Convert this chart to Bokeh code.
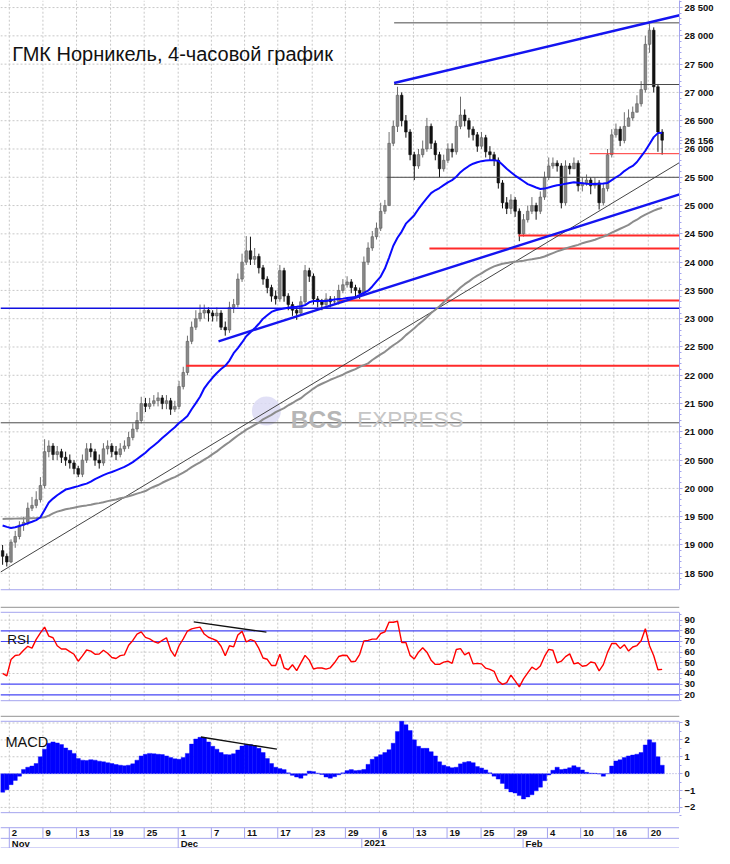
from bokeh.plotting import figure
from bokeh.models import Range1d, LinearAxis, FixedTicker, Label, ColumnDataSource
from bokeh.layouts import column
from bokeh.embed import file_html
from bokeh.resources import INLINE
from bokeh.core.properties import value

TITLE = "ГМК Норникель, 4-часовой график"

# ---------------- data (4-hour bars) ----------------
first_open = 18900
closes = [
    18800, 18700, 19050, 19150, 19350, 19400, 19650, 19700, 19800, 20050,
    20650, 20750, 20600, 20650, 20550, 20500, 20450, 20350, 20250, 20500,
    20700, 20650, 20500, 20450, 20700, 20750, 20650, 20600, 20700, 20750,
    20900, 21050, 21200, 21500, 21450, 21500, 21550, 21600, 21500, 21550,
    21400, 21450, 21800, 22050, 22600, 22850, 23000, 23100, 23150, 23100,
    23050, 23100, 22850, 22800, 23200, 23250, 23700, 24000, 24200, 24050,
    24100, 23900, 23700, 23550, 23400, 23350, 23850, 23400, 23250, 23150,
    23100, 23300, 23850, 23750, 23350, 23300, 23250, 23350, 23300, 23300,
    23500, 23600, 23650, 23550, 23500, 23450, 24000, 24250, 24450, 24600,
    24900, 25000, 26100, 26400, 26950, 26500, 26300, 25900, 25700, 25900,
    26000, 26400, 26100, 25900, 25650, 25800, 26000, 25950, 26400, 26600,
    26500, 26350, 26250, 26050, 26200, 25950, 25900, 25800, 25400, 25050,
    24950, 25100, 24900, 24500, 24750, 24900, 25000, 24900, 25150, 25500,
    25700, 25750, 25700, 25050, 25700, 25650, 25750, 25350, 25400, 25450,
    25350, 25400, 25050, 25300, 25900, 26250, 26350, 26150, 26400, 26550,
    26650, 26800, 27050, 27850, 28100, 27100, 26300, 26156]
highs = [
    19000, 18850, 19100, 19250, 19420, 19500, 19750, 19850, 19950, 20200,
    20870, 20850, 20800, 20750, 20700, 20650, 20600, 20500, 20400, 20600,
    20800, 20800, 20700, 20600, 20800, 20850, 20800, 20750, 20800, 20850,
    21000, 21150, 21350, 21620, 21600, 21600, 21650, 21700, 21650, 21650,
    21600, 21550, 21900, 22150, 22700, 22950, 23150, 23250, 23250, 23200,
    23150, 23200, 23150, 22950, 23300, 23350, 23800, 24150, 24460, 24450,
    24250, 24150, 23950, 23750, 23600, 23500, 23950, 23900, 23450, 23300,
    23200, 23400, 23950, 23900, 23800, 23400, 23350, 23450, 23400, 23400,
    23600, 23700, 23750, 23700, 23600, 23550, 24100, 24350, 24550, 24700,
    25050, 25100, 26300, 26500, 27100, 27000, 26600, 26350, 25950, 26000,
    26150, 26550, 26450, 26150, 25950, 25900, 26100, 26100, 26500, 26925,
    26700, 26550, 26400, 26300, 26300, 26250, 26050, 25950, 25850, 25450,
    25150, 25200, 25150, 24950, 24850, 25000, 25150, 25050, 25250, 25600,
    25850, 25850, 25800, 25750, 25800, 25750, 25850, 25800, 25500, 25550,
    25500, 25500, 25450, 25400, 26000, 26350, 26450, 26400, 26650, 26700,
    26750, 26950, 27200, 28000, 28220, 28150, 27150, 26350]
lows = [
    18650, 18620, 18680, 18950, 19100, 19250, 19350, 19600, 19650, 19750,
    20000, 20550, 20500, 20500, 20450, 20400, 20350, 20250, 20200, 20200,
    20450, 20550, 20400, 20350, 20400, 20600, 20550, 20500, 20550, 20650,
    20700, 20850, 21000, 21150, 21350, 21400, 21450, 21450, 21400, 21400,
    21300, 21350, 21400, 21750, 22000, 22550, 22800, 22950, 23000, 22950,
    22950, 22950, 22800, 22700, 22750, 23100, 23200, 23650, 23950, 23950,
    23950, 23800, 23600, 23450, 23300, 23250, 23300, 23300, 23150, 23050,
    22980, 23050, 23250, 23650, 23250, 23200, 23150, 23200, 23200, 23250,
    23250, 23450, 23550, 23450, 23400, 23350, 23400, 23950, 24200, 24400,
    24550, 24850, 25000, 26050, 26300, 26400, 26200, 25800, 25450, 25650,
    25850, 25950, 26000, 25800, 25500, 25600, 25750, 25850, 25900, 26350,
    26400, 26200, 26150, 25950, 26000, 25850, 25800, 25700, 25300, 24950,
    24850, 24850, 24800, 24370, 24450, 24700, 24850, 24750, 24850, 25100,
    25450, 25650, 25600, 24950, 25000, 25550, 25650, 25250, 25250, 25350,
    25200, 25300, 24930, 25000, 25250, 25850, 26200, 26050, 26100, 26450,
    26500, 26650, 26750, 27000, 27700, 27000, 25950, 25900]
ma_fast = [
    19345, 19320, 19300, 19315, 19335, 19360, 19385, 19410, 19440, 19490,
    19620, 19750, 19820, 19880, 19930, 19980, 20000, 20020, 20040, 20065,
    20085, 20120, 20165, 20200, 20235, 20265, 20290, 20320, 20350, 20380,
    20420, 20465, 20520, 20575, 20630, 20700, 20760, 20820, 20890, 20955,
    21020, 21080, 21155, 21215, 21280, 21400, 21507, 21620, 21770, 21870,
    21960, 22040, 22110, 22167, 22260, 22390, 22480, 22580, 22690, 22760,
    22830, 22910, 23000, 23060, 23120, 23150, 23165, 23180, 23195, 23205,
    23210, 23220, 23240, 23290, 23313, 23313, 23313, 23313, 23325, 23340,
    23348, 23355, 23365, 23375, 23382, 23420, 23455, 23495, 23570, 23660,
    23745, 23886, 24080, 24290, 24430, 24540, 24680, 24755, 24830, 24940,
    25040, 25130, 25220, 25270, 25310, 25360, 25410, 25450, 25510, 25590,
    25650, 25700, 25740, 25765, 25785, 25795, 25800, 25800, 25790, 25720,
    25650, 25590, 25530, 25480, 25430, 25380, 25350, 25320, 25292, 25300,
    25320, 25340, 25360, 25370, 25385, 25400, 25413, 25405, 25395, 25385,
    25380, 25380, 25385, 25390, 25400, 25450, 25500, 25545, 25610, 25660,
    25700, 25770, 25870, 25969, 26090, 26210, 26281, 26285]
ma_slow = [
    19460, 19462, 19464, 19466, 19468, 19470, 19472, 19474, 19476, 19480,
    19490, 19520, 19560, 19590, 19610, 19632, 19645, 19660, 19675, 19690,
    19700, 19712, 19728, 19740, 19757, 19775, 19790, 19805, 19825, 19841,
    19862, 19883, 19908, 19930, 19953, 19995, 20030, 20060, 20100, 20135,
    20170, 20200, 20240, 20280, 20325, 20375, 20420, 20460, 20510, 20553,
    20605, 20655, 20715, 20770, 20820, 20880, 20935, 20985, 21040, 21080,
    21125, 21165, 21220, 21260, 21300, 21350, 21385, 21420, 21470, 21510,
    21555, 21594, 21655, 21710, 21765, 21815, 21850, 21885, 21920, 21950,
    21980, 22010, 22050, 22080, 22110, 22150, 22180, 22210, 22270, 22320,
    22370, 22415, 22475, 22530, 22580, 22636, 22710, 22770, 22830, 22900,
    22960, 23025, 23100, 23160, 23220, 23290, 23360, 23420, 23480, 23550,
    23610, 23660, 23715, 23760, 23800, 23850, 23890, 23925, 23950, 23970,
    23985, 23998, 24007, 24015, 24025, 24040, 24050, 24065, 24077, 24100,
    24130, 24160, 24190, 24215, 24240, 24265, 24285, 24305, 24335, 24355,
    24375, 24395, 24424, 24450, 24480, 24520, 24555, 24590, 24625, 24660,
    24710, 24750, 24800, 24840, 24875, 24910, 24940, 24962]
rsi = [
    40, 37.8, 53, 56.8, 57.5, 61.8, 65.5, 63.8, 72, 78,
    83.5, 75, 73.5, 66, 63, 63, 60.5, 58, 51.5, 56.5,
    62, 61, 58, 58.3, 61.8, 59, 55, 54, 56.7, 57.5,
    66.5, 71, 77, 79, 73.8, 72.4, 70, 68.5, 71, 73.5,
    62, 56, 66, 72.5, 79.8, 81.8, 82.8, 83.5, 77, 74,
    72.5, 70.7, 65.5, 56.6, 66, 65, 76, 79.5, 69.5, 71.8,
    70.4, 63.5, 54.5, 53.3, 47.5, 47.5, 58, 45.3, 43.5, 48.2,
    42.6, 50, 57, 52.5, 44.2, 45.2, 45.1, 44.1, 45.3, 50,
    55.9, 57.1, 56.8, 51, 51.5, 58, 70.6, 71, 72.2, 72.2,
    77.5, 79, 88.2, 88, 89, 69.1, 69.1, 57, 53.6, 60,
    64.2, 60, 52.5, 48.5, 48.6, 50.6, 51.5, 49.5, 62.5, 63.3,
    57.5, 59.7, 49, 49.5, 49, 45, 43.8, 42, 33, 29.8,
    31.5, 38.5, 33, 27.5, 35, 40.5, 46, 43.5, 47, 56,
    62.6, 61.8, 50, 51.5, 55.8, 58.4, 49, 50.1, 46.8, 47.5,
    50.8, 50, 42.5, 48.3, 59.8, 68.1, 68.1, 63.5, 67, 61,
    64.8, 66.2, 70.7, 82, 66, 56.6, 43.5, 43.8]
macd_hist = [
    -1.1, -0.95, -0.65, -0.4, -0.15, 0.25, 0.38, 0.45, 0.6, 1.0,
    1.45, 1.8, 1.88, 1.82, 1.72, 1.52, 1.38, 1.2, 0.9, 0.8,
    0.78, 0.83, 0.8, 0.74, 0.7, 0.65, 0.6, 0.54, 0.5, 0.47,
    0.5, 0.58, 0.8, 1.05, 1.15, 1.2, 1.18, 1.15, 1.13, 1.05,
    0.95, 0.88, 0.85, 0.95, 1.2, 1.75, 2.05, 2.15, 2.12, 1.88,
    1.62, 1.45, 1.25, 1.13, 1.12, 1.18, 1.4, 1.63, 1.74, 1.72,
    1.63, 1.5, 1.25, 0.9, 0.6, 0.38, 0.3, 0.24, 0.05, -0.1,
    -0.2, -0.27, -0.1, 0.15, 0.12, 0.03, -0.05, -0.2, -0.27, -0.18,
    -0.07, 0.05, 0.18, 0.24, 0.18, 0.2, 0.25, 0.55, 0.85, 1.0,
    1.12, 1.25, 1.42, 1.8, 2.5, 3.1, 2.9, 2.55, 2.0, 1.62,
    1.5, 1.5, 1.3, 1.05, 0.7, 0.5, 0.42, 0.35, 0.38, 0.58,
    0.68, 0.72, 0.65, 0.42, 0.33, 0.22, 0.05, -0.15, -0.32, -0.58,
    -0.9, -1.08, -1.15, -1.3, -1.5, -1.38, -1.25, -1.02, -0.8, -0.42,
    -0.08, 0.2, 0.38, 0.24, 0.28, 0.35, 0.47, 0.38, 0.22, 0.08,
    0.03, 0.02, -0.02, -0.15, 0.0, 0.45, 0.75, 0.82, 0.95, 1.05,
    1.1, 1.15, 1.25, 1.7, 2.0, 1.85, 1.0, 0.5]
last_price = 26156

price_ticks = [18500, 19000, 19500, 20000, 20500, 21000, 21500, 22000, 22500,
               23000, 23500, 24000, 24500, 25000, 25500, 26000, 26500, 27000,
               27500, 28000, 28500]
rsi_ticks = [20, 30, 40, 50, 60, 70, 80, 90]
macd_ticks = [-2, -1, 0, 1, 2, 3]
grid_bars = [2.1, 10.1, 18.1, 26.2, 34.2, 42.3, 50.2, 58.1, 66.0, 74.2,
             82.1, 90.2, 98.3, 106.3, 114.4, 122.3, 130.2, 138.1, 146.0, 154.2]
day_labels = ["2", "9", "13", "19", "25", "1", "7", "11", "17", "23", "29",
              "6", "13", "19", "25", "29", "4", "10", "16", "20"]
month_bars = [2.1, 42.3, 86.0, 124.4]
month_labels = ["Nov", "Dec", "2021", "Feb"]

# analyst levels (price, first bar)
black_level_price = [28230, 27140, 25500, 21160]
black_level_from = [93.7, 93.7, 91.9, 0.0]
red_level_price = [24470, 24240, 23320, 22170]
red_level_from = [123.3, 102.1, 80.7, 44.2]
thin_red_level_price = [25917]
thin_red_level_from = [140.2]
blue_level_price = [23185]
blue_level_from = [0.0]
# trend lines (bar, price) -> (bar, price)
trend_blue_x0 = [51.9, 93.7]
trend_blue_y0 = [22601, 27167]
trend_blue_x1 = [161.63, 161.63]
trend_blue_y1 = [25196, 28365]
long_trend_x = [0.0, 161.63]
long_trend_y = [18521, 25760]
rsi_div_x = [46.0, 63.3]
rsi_div_y = [88.4, 78.7]
macd_div_x = [47.7, 65.8]
macd_div_y = [2.17, 1.45]

# ---------------- styling ----------------
X_END = 161.63
FRAME_W = 679
GRID = "#c8c8c8"
PURPLE = "#a4a4ee"
FONT = "Liberation Sans"
TICK_FONT = "9.5px"

x_rng = Range1d(0, X_END)


def make_fig(h, y0, y1):
    f = figure(frame_width=FRAME_W, frame_height=h, x_range=x_rng,
               y_range=Range1d(y0, y1), output_backend="svg",
               toolbar_location=None, min_border=0,
               x_axis_location=None, y_axis_location=None)
    f.grid.visible = False
    f.outline_line_color = None
    f.background_fill_color = "white"
    f.border_fill_color = "white"
    return f


def right_axis(f, ticks, minor, bounds, overrides=None):
    ax = LinearAxis(ticker=FixedTicker(ticks=ticks, minor_ticks=minor), bounds=bounds)
    ax.axis_line_color = PURPLE
    ax.major_tick_line_color = PURPLE
    ax.minor_tick_line_color = PURPLE
    ax.major_tick_in = 0
    ax.major_tick_out = 3
    ax.minor_tick_in = 0
    ax.minor_tick_out = 2
    ax.major_label_standoff = 2
    ax.major_label_text_font = FONT
    ax.major_label_text_font_size = TICK_FONT
    ax.major_label_text_font_style = "bold"
    ax.major_label_text_color = "#111111"
    if overrides:
        ax.major_label_overrides = overrides
    f.add_layout(ax, "right")


def vgrid(f, lo, hi):
    f.segment(x0=grid_bars, y0=[lo] * len(grid_bars), x1=grid_bars, y1=[hi] * len(grid_bars),
              line_color=GRID, line_width=1, line_dash="2 2")


def hgrid(f, ys):
    f.segment(x0=[0] * len(ys), y0=ys, x1=[X_END] * len(ys), y1=ys,
              line_color=GRID, line_width=1, line_dash="2 2")


def hlines(f, ys, starts, color, width):
    f.segment(x0=starts, y0=ys, x1=[X_END] * len(ys), y1=ys, line_color=color, line_width=width)


def spaced(v):
    return f"{v // 1000} {v % 1000:03d}"


# ---------------- main price panel ----------------
P_LO, P_HI = 18001, 28625
P_BOX = 18209
main = make_fig(601, P_LO, P_HI)
hgrid(main, price_ticks)
vgrid(main, P_BOX, P_HI)
hlines(main, [P_BOX], [0], PURPLE, 1)

N = len(closes)
xs = [i + 0.5 for i in range(N)]
opens = [first_open] + closes[:-1]
hi = [max(h, o, c) for h, o, c in zip(highs, opens, closes)]
lo = [min(l, o, c) for l, o, c in zip(lows, opens, closes)]
top = [max(o, c) for o, c in zip(opens, closes)]
bot = [min(o, c) for o, c in zip(opens, closes)]
up_idx = [i for i in range(N) if closes[i] >= opens[i]]
dn_idx = [i for i in range(N) if closes[i] < opens[i]]


def csrc(idx):
    return ColumnDataSource(dict(x=[xs[i] for i in idx], hi=[hi[i] for i in idx],
                                 lo=[lo[i] for i in idx], top=[top[i] for i in idx],
                                 bot=[bot[i] for i in idx]))


s_up, s_dn = csrc(up_idx), csrc(dn_idx)
main.segment(x0="x", y0="hi", x1="x", y1="lo", source=s_up, line_color="#6e6e6e", line_width=1)
main.segment(x0="x", y0="hi", x1="x", y1="lo", source=s_dn, line_color="#111111", line_width=1)
main.vbar(x="x", top="top", bottom="bot", width=0.62, source=s_up,
          fill_color="#8a8a8a", line_color="#5a5a5a", line_width=0.6)
main.vbar(x="x", top="top", bottom="bot", width=0.62, source=s_dn,
          fill_color="#111111", line_color="#111111", line_width=0.6)

# watermark
main.scatter(x=[63.3], y=[21368], size=29, marker="circle", fill_color="#dcdaf4",
             line_color=None, fill_alpha=0.85)
main.add_layout(Label(x=69.1, y=21212, text="BCS", text_font=FONT, text_font_size="24.5px",
                      text_font_style="bold", text_color="#b6b6b6", text_baseline="alphabetic"))
main.add_layout(Label(x=84.9, y=21212, text="EXPRESS", text_font=FONT, text_font_size="22.5px",
                      text_color="#c6c6c6", text_baseline="alphabetic"))

# levels and lines
hlines(main, black_level_price, black_level_from, "#4a4a4a", 1)
hlines(main, red_level_price, red_level_from, "#ff2a2a", 2)
hlines(main, thin_red_level_price, thin_red_level_from, "#ff3030", 1)
hlines(main, blue_level_price, blue_level_from, "#1010e0", 1.6)
main.line(long_trend_x, long_trend_y, line_color="#444444", line_width=1)
main.line(xs, ma_slow, line_color="#8c8c8c", line_width=2)
main.line(xs, ma_fast, line_color="#0a0aff", line_width=2)
main.segment(x0=trend_blue_x0, y0=trend_blue_y0, x1=trend_blue_x1, y1=trend_blue_y1,
             line_color="#1414f0", line_width=2.4)

main.add_layout(Label(x=2.8, y=27688, text=TITLE, text_font=FONT, text_font_size="20px",
                      text_color="#111111", text_baseline="alphabetic"))

# price axis: regular ticks plus the last-price marker
price_labels = {t: spaced(t) for t in price_ticks}
price_labels[last_price] = spaced(last_price)
right_axis(main, sorted(price_ticks + [last_price]), list(range(18300, 28700, 100)),
           (P_BOX, P_HI), price_labels)

# ---------------- RSI panel ----------------
R_LO, R_HI = 4.34, 107.5
R_BOX_LO, R_BOX_HI = 14.47, 97.37
rp = make_fig(110, R_LO, R_HI)
hlines(rp, [102.0], [0], "#a8a8a8", 1.2)
hgrid(rp, [90, 60, 50, 40])
vgrid(rp, R_BOX_LO, R_BOX_HI)
hlines(rp, [R_BOX_HI, R_BOX_LO], [0, 0], PURPLE, 1)
hlines(rp, [80, 70, 30, 20], [0, 0, 0, 0], "#4646f4", 1.2)
rp.line(xs, rsi, line_color="#ff0000", line_width=1.4)
rp.line(rsi_div_x, rsi_div_y, line_color="#111111", line_width=1.3)
rp.add_layout(Label(x=1.6, y=72.3, text="RSI", text_font=FONT, text_font_size="13.5px",
                    text_color="#111111", text_baseline="alphabetic"))
right_axis(rp, rsi_ticks, [15, 25, 35, 45, 55, 65, 75, 85, 95], (R_BOX_LO, R_BOX_HI))

# ---------------- MACD panel ----------------
M_LO, M_HI = -2.715, 3.68
M_BOX_LO, M_BOX_HI = -2.31, 3.10
mp = make_fig(108, M_LO, M_HI)
hlines(mp, [3.39], [0], "#a8a8a8", 1.2)
hgrid(mp, [3, 2, 1, -1, -2])
vgrid(mp, M_BOX_LO, M_BOX_HI)
hlines(mp, [M_BOX_HI, M_BOX_LO], [0, 0], PURPLE, 1)
mp.vbar(x=xs, top=macd_hist, bottom=0, width=1.0, fill_color="#0000ff",
        line_color="#0000ff", line_width=0.4)
mp.segment(x0=[0], y0=[0], x1=[X_END], y1=[0], line_color="#9a9ad8", line_width=1, line_dash="1 2")
mp.line(macd_div_x, macd_div_y, line_color="#111111", line_width=1.3)
mp.add_layout(Label(x=1.2, y=1.88, text="MACD", text_font=FONT, text_font_size="14.5px",
                    text_color="#111111", text_baseline="alphabetic"))
right_axis(mp, macd_ticks, [-2.5, -1.5, -0.5, 0.5, 1.5, 2.5], (M_BOX_LO, M_BOX_HI))

# ---------------- date strip ----------------
dp = make_fig(29, 864, 834)
dp.segment(x0=[0, 0, 0], y0=[842.5, 853.5, 863.5], x1=[X_END] * 3, y1=[842.5, 853.5, 863.5],
           line_color=PURPLE, line_width=1)
dp.segment(x0=grid_bars, y0=[842.5] * len(grid_bars), x1=grid_bars, y1=[853.5] * len(grid_bars),
           line_color=PURPLE, line_width=1)
dp.segment(x0=month_bars, y0=[853.5] * len(month_bars), x1=month_bars, y1=[864] * len(month_bars),
           line_color=PURPLE, line_width=1)
dp.text(x=[g + 0.6 for g in grid_bars], y=[848] * len(grid_bars), text=day_labels,
        text_font=value(FONT), text_font_size=TICK_FONT, text_font_style="bold",
        text_color="#111111", text_baseline="middle", text_align="left")
dp.text(x=[m + 0.6 for m in month_bars], y=[858.8] * len(month_bars), text=month_labels,
        text_font=value(FONT), text_font_size=TICK_FONT, text_font_style="bold",
        text_color="#111111", text_baseline="middle", text_align="left")

layout = column(main, rp, mp, dp, spacing=0)
open("out.html", "w").write(file_html(layout, INLINE))
